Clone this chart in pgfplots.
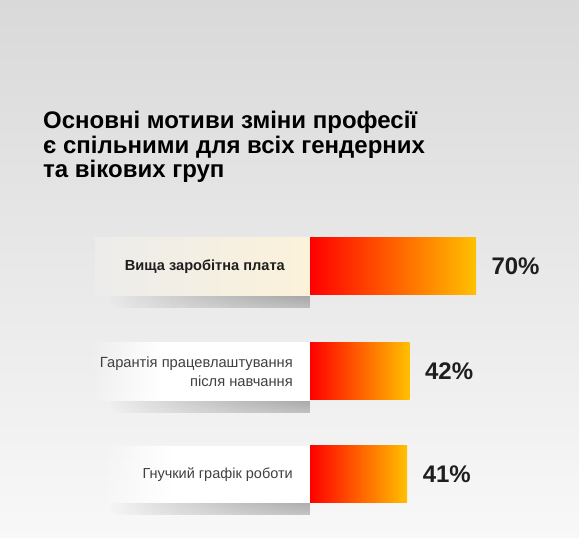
\documentclass[border=0pt]{standalone}
\usepackage{pgfplots}
\pgfplotsset{compat=1.18}
\usepackage{fontspec}
\setmainfont{Liberation Sans}
\usetikzlibrary{fadings}
\definecolor{bgtop}{RGB}{217,217,217}
\definecolor{bgbot}{RGB}{248,248,248}
\definecolor{amber}{RGB}{255,192,0}
\definecolor{barred}{RGB}{255,0,0}
\definecolor{barmid}{RGB}{255,85,0}
\definecolor{cream}{RGB}{252,242,218}
\definecolor{txt}{RGB}{30,30,30}
\tikzfading[name=fadeL, left color=transparent!100, right color=transparent!0]
\begin{document}
\begin{tikzpicture}[x=1pt,y=1pt]
% background
\fill[top color=bgtop, bottom color=bgbot] (0,0) rectangle (579,538);
% shadows
\foreach \yb in {242,137,35}{
  \fill[top color=black!30, bottom color=white, opacity=0.3, path fading=fadeL] (110,\yb-12) rectangle (310,\yb);
}
% label boxes
\fill[left color={rgb,255:red,236;green,236;blue,236}, right color=cream] (95,242) rectangle (310,300);
\fill[white, path fading=fadeL] (90,137) rectangle (160,196);
\fill[white] (160,137) rectangle (310,196);
\fill[white, path fading=fadeL] (100,35) rectangle (170,92);
\fill[white] (170,35) rectangle (310,92);
\begin{axis}[at={(0,0)}, anchor=south west, scale only axis,
  width=579pt, height=538pt,
  xmin=-130.72, xmax=113.43, ymin=0, ymax=538,
  hide axis, clip=false, no markers,
  every axis plot/.append style={xbar, bar width=57pt, bar shift=0pt, draw=none,
    left color=barred, middle color=barmid, right color=amber,
    point meta=explicit symbolic,
    nodes near coords={\pgfplotspointmeta\%},
    every node near coord/.append style={anchor=west, xshift=12pt, text=txt,
      font=\fontsize{24}{24}\selectfont\bfseries}}]
\addplot coordinates {(70,271.5) [70]};
\addplot coordinates {(42,166.5) [42]};
\addplot coordinates {(41,63.5) [41]};
\end{axis}
% title
\begin{scope}[every node/.style={anchor=base west, inner sep=0pt, text=black, font=\fontsize{24}{26}\selectfont\bfseries}]
\node at (43,409) {Основні мотиви зміни професії};
\node at (43,384.5) {є спільними для всіх гендерних};
\node at (43,360) {та вікових груп};
\end{scope}
% category labels
\node[anchor=east, inner sep=0pt, text=txt, font=\fontsize{14.6}{16}\selectfont\bfseries] at (285,271.5) {Вища заробітна плата};
\node[anchor=east, inner sep=0pt, align=right, text=txt!85, font=\fontsize{14.7}{19}\selectfont] at (293,166.5) {Гарантія працевлаштування\\після навчання};
\node[anchor=east, inner sep=0pt, text=txt!85, font=\fontsize{14.5}{16}\selectfont] at (293,63.5) {Гнучкий графік роботи};
\end{tikzpicture}
\end{document}
